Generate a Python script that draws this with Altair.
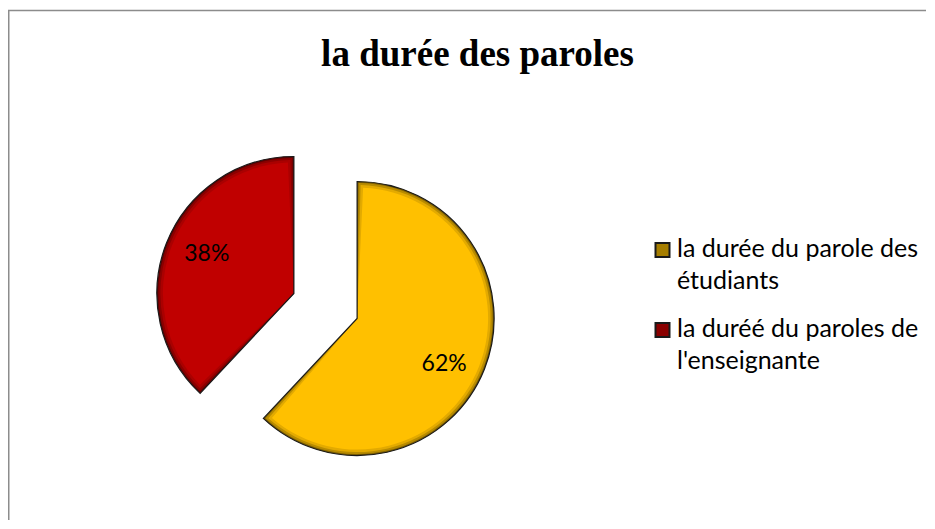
import altair as alt
import pandas as pd

# ---- data ----
categories = ["la durée du parole des étudiants", "la duréé du paroles de l'enseignante"]
values = [62, 38]
colors = ["#FFC000", "#C00000"]          # slice colours
swatch_colors = ["#A67E00", "#8A0000"]   # legend swatch colours (darker, as in the reference)
title_text = ["la durée des paroles"]

W, H = 918, 512
CX, CY = 317.5, 298      # pie centre (view px)
R = 137                  # pie radius
EXPLODE = 34             # explode distance of each slice
LABEL_R = 97             # label distance from slice vertex
LABEL_ROT = 0.08         # small angular shift of the % labels (rad)
LEG_X, LEG_Y, LEG_ROW = 654.5, 242, 80
LEG_TEXT_DX, LEG_TEXT_DY = 14.5, 7

df = pd.DataFrame({
    "cat": categories,
    "value": values,
    "order": list(range(len(values))),
    "swatch": swatch_colors,
})

color_scale = alt.Scale(domain=categories, range=colors)

base = (
    alt.Chart(df)
    .transform_joinaggregate(total="sum(value)")
    .transform_window(cum="sum(value)", sort=[alt.SortField("order")], frame=[None, 0])
    .transform_calculate(
        start="2*PI*(datum.cum - datum.value)/datum.total",
        end="2*PI*datum.cum/datum.total",
    )
    .transform_calculate(mid="(datum.start + datum.end)/2")
    .transform_calculate(
        cx=f"{CX} + {EXPLODE}*sin(datum.mid)",
        cy=f"{CY} - {EXPLODE}*cos(datum.mid)",
        pct="format(datum.value/datum.total, '.0%')",
    )
    .transform_calculate(
        lx=f"datum.cx + {LABEL_R}*sin(datum.mid + {LABEL_ROT})",
        ly=f"datum.cy - {LABEL_R}*cos(datum.mid + {LABEL_ROT})",
    )
)


def arc_layer(inset, fill=None, opacity=1.0, stroke=False):
    kw = dict(radius=R - inset, fillOpacity=opacity)
    if inset > 0:
        kw["padAngle"] = 2 * inset / (R - inset)
    if stroke:
        kw.update(stroke="#1a1a1a", strokeWidth=1.2)
    if fill is not None:
        kw["fill"] = fill
    enc = dict(
        theta=alt.Theta("start:Q", scale=None),
        theta2="end:Q",
        x=alt.X("cx:Q", scale=None, axis=None),
        y=alt.Y("cy:Q", scale=None, axis=None),
    )
    if fill is None:
        enc["color"] = alt.Color("cat:N", scale=color_scale, legend=None)
    return base.mark_arc(**kw).encode(**enc)


# base slice + inner shading (bevel) layers
arc_base = arc_layer(0)
arc_dark = arc_layer(0, fill="#000000", opacity=0.5)
arc_s1 = arc_layer(1.5, opacity=0.45)
arc_s2 = arc_layer(3.5, opacity=0.6)
arc_s3 = arc_layer(6, opacity=1.0)
arc_edge = arc_layer(0, fill="transparent", stroke=True)

labels = base.mark_text(font="Lato", fontSize=23, color="#000000", dy=3).encode(
    x=alt.X("lx:Q", scale=None, axis=None),
    y=alt.Y("ly:Q", scale=None, axis=None),
    text="pct:N",
)

# legend (drawn from the same categories)
leg_base = (
    alt.Chart(df)
    .transform_calculate(
        sx=f"{LEG_X}",
        sy=f"{LEG_Y} + datum.order*{LEG_ROW}",
        tx=f"{LEG_X} + {LEG_TEXT_DX}",
        ty=f"{LEG_Y} + {LEG_TEXT_DY} + datum.order*{LEG_ROW}",
        lab="slice(datum.cat, 0, lastindexof(datum.cat, ' ')) + '\\n' + slice(datum.cat, lastindexof(datum.cat, ' ') + 1)",
    )
)
leg_sq = leg_base.mark_square(size=196, stroke="#1a1a1a", strokeWidth=2, fillOpacity=1).encode(
    x=alt.X("sx:Q", scale=None, axis=None),
    y=alt.Y("sy:Q", scale=None, axis=None),
    fill=alt.Fill("swatch:N", scale=None),
)
leg_txt = leg_base.mark_text(
    font="Lato", fontSize=25, color="#000000", align="left", baseline="alphabetic",
    lineBreak="\n", lineHeight=32,
).encode(
    x=alt.X("tx:Q", scale=None, axis=None),
    y=alt.Y("ty:Q", scale=None, axis=None),
    text="lab:N",
)

title = alt.Chart(pd.DataFrame({"t": title_text})).mark_text(
    font="Liberation Serif", fontWeight="bold", fontSize=37, baseline="alphabetic", align="center"
).encode(x=alt.value(469.5), y=alt.value(58), text="t:N")

frame_top = alt.Chart(pd.DataFrame({"t": title_text})).mark_rule(color="#8c8c8c", strokeWidth=1.5).encode(
    x=alt.value(0), x2=alt.value(W), y=alt.value(2.5)
)
frame_left = alt.Chart(pd.DataFrame({"t": title_text})).mark_rule(color="#8c8c8c", strokeWidth=1.5).encode(
    x=alt.value(0.75), y=alt.value(2.5), y2=alt.value(H)
)

chart = (
    alt.layer(frame_top, frame_left, arc_base, arc_dark, arc_s1, arc_s2, arc_s3, arc_edge,
              labels, leg_sq, leg_txt, title)
    .properties(width=W, height=H, padding=0, autosize=alt.AutoSizeParams(type="none"))
    .configure_view(stroke=None)
)

chart.save("out.html", embed_options={"renderer": "svg", "actions": False})
